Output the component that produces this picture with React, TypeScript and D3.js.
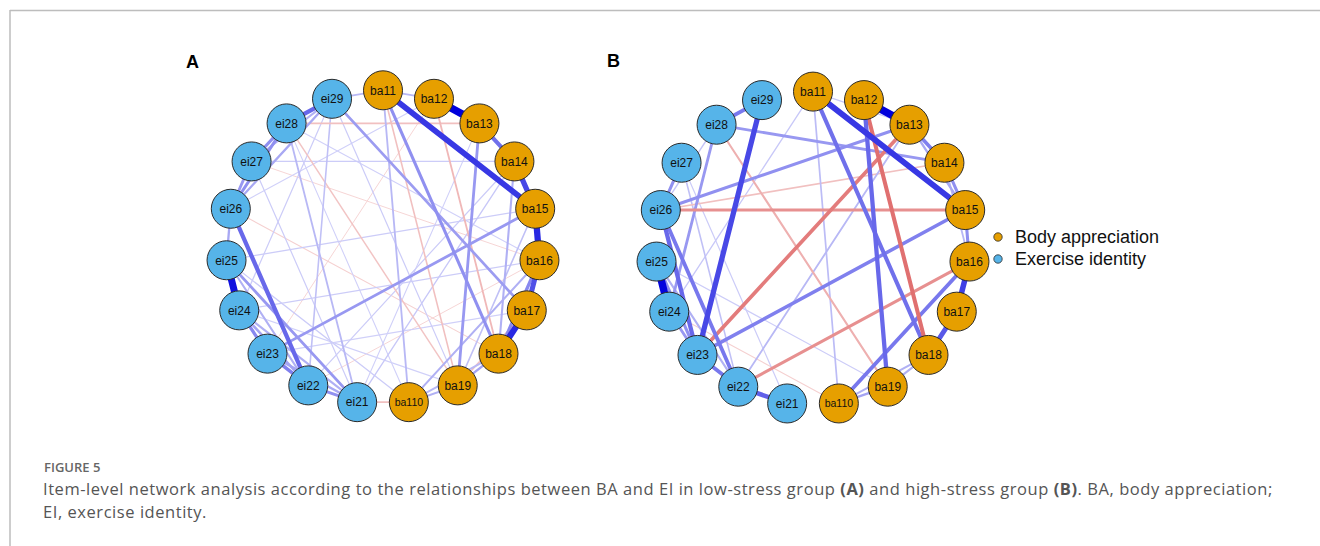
import React from "react";
import * as d3 from "d3";

// node order around the circle (qgraph circle layout, clockwise from top)
const nodes = [
  "ba11", "ba12", "ba13", "ba14", "ba15", "ba16", "ba17", "ba18", "ba19", "ba110",
  "ei21", "ei22", "ei23", "ei24", "ei25", "ei26", "ei27", "ei28", "ei29",
];

const groups = ["Body appreciation", "Exercise identity"];
const groupColors = ["#E69F00", "#56B4E9"];

// partial correlations (sign = colour, size = width)
const edgesLow: [string, string, number][] = [
  ["ba12", "ba13", 0.56],
  ["ba11", "ba15", 0.42],
  ["ba15", "ba16", 0.46],
  ["ba14", "ba15", 0.38],
  ["ba17", "ba18", 0.46],
  ["ba16", "ba17", 0.36],
  ["ba16", "ba18", 0.22],
  ["ba13", "ba14", 0.28],
  ["ei24", "ei25", 0.52],
  ["ei28", "ei29", 0.3],
  ["ei26", "ei22", 0.3],
  ["ei27", "ei28", 0.2],
  ["ei26", "ei28", 0.2],
  ["ei26", "ei27", 0.18],
  ["ei26", "ei29", 0.14],
  ["ei27", "ei29", 0.12],
  ["ei25", "ei26", 0.14],
  ["ei23", "ei24", 0.22],
  ["ei22", "ei23", 0.24],
  ["ei21", "ei22", 0.2],
  ["ei23", "ei21", 0.14],
  ["ei24", "ei22", 0.15],
  ["ei25", "ei21", 0.18],
  ["ei25", "ei22", 0.12],
  ["ei24", "ei21", 0.12],
  ["ei28", "ei21", 0.1],
  ["ei29", "ei22", 0.08],
  ["ba11", "ba18", 0.2],
  ["ba13", "ba19", 0.18],
  ["ba14", "ba18", 0.12],
  ["ba11", "ba12", 0.1],
  ["ba11", "ba110", 0.1],
  ["ba18", "ba19", 0.15],
  ["ba19", "ba110", 0.12],
  ["ba18", "ba110", 0.1],
  ["ba16", "ba110", 0.12],
  ["ba15", "ba19", 0.08],
  ["ba15", "ei23", 0.18],
  ["ei29", "ba17", 0.17],
  ["ei29", "ba11", 0.1],
  ["ba14", "ei21", 0.06],
  ["ba12", "ba18", -0.1],
  ["ba11", "ba19", -0.08],
  ["ei28", "ba13", -0.08],
  ["ei28", "ba19", -0.07],
  ["ba17", "ba19", -0.08],
  ["ba110", "ei21", -0.08],
  ["ei26", "ba18", -0.04],
  ["ei27", "ba16", -0.03],
  ["ei25", "ba15", 0.05],
  ["ei27", "ba14", 0.05],
  ["ei24", "ba16", 0.05],
  ["ei23", "ba17", 0.04],
  ["ei22", "ba14", 0.05],
  ["ei21", "ba13", 0.04],
  ["ei29", "ba19", 0.05],
  ["ei28", "ba110", 0.04],
  ["ei26", "ba12", 0.04],
  ["ei25", "ba110", 0.05],
  ["ei24", "ba19", 0.04],
  ["ei27", "ei21", 0.05],
  ["ei29", "ei24", 0.05],
  ["ei28", "ba16", 0.04],
  ["ei22", "ba16", -0.03],
  ["ei23", "ba12", -0.03],
];

const edgesHigh: [string, string, number][] = [
  ["ba12", "ba13", 0.56],
  ["ba11", "ba15", 0.42],
  ["ba16", "ba17", 0.4],
  ["ba17", "ba18", 0.34],
  ["ba13", "ba14", 0.24],
  ["ba14", "ba15", 0.2],
  ["ba13", "ba15", 0.14],
  ["ba15", "ba16", 0.2],
  ["ba14", "ba16", 0.1],
  ["ba11", "ba18", 0.28],
  ["ba12", "ba19", 0.3],
  ["ba16", "ba110", 0.26],
  ["ba18", "ba19", 0.12],
  ["ba19", "ba110", 0.15],
  ["ba18", "ba110", 0.12],
  ["ba11", "ba110", 0.09],
  ["ba11", "ba13", 0.06],
  ["ei24", "ei25", 0.55],
  ["ei29", "ei23", 0.38],
  ["ei28", "ei29", 0.26],
  ["ei26", "ei23", 0.3],
  ["ei26", "ei22", 0.26],
  ["ei21", "ei22", 0.32],
  ["ei22", "ei23", 0.26],
  ["ei25", "ei23", 0.2],
  ["ei24", "ei23", 0.18],
  ["ei25", "ei22", 0.12],
  ["ei26", "ei27", 0.2],
  ["ei28", "ei24", 0.18],
  ["ei27", "ei22", 0.08],
  ["ei28", "ei26", 0.07],
  ["ei26", "ba13", 0.2],
  ["ei28", "ba14", 0.18],
  ["ei23", "ba15", 0.24],
  ["ei22", "ba13", 0.1],
  ["ba11", "ei24", 0.06],
  ["ei25", "ba19", 0.05],
  ["ei27", "ei21", 0.05],
  ["ba13", "ei23", -0.25],
  ["ba12", "ba18", -0.28],
  ["ei26", "ba15", -0.2],
  ["ba16", "ei22", -0.2],
  ["ei28", "ba19", -0.12],
  ["ei26", "ba14", -0.08],
  ["ei24", "ba110", -0.04],
];

const W = 1320;
const H = 546;
const R = 157;
const nodeR = 19.5;
const maxW = 0.56;

const angle = d3.scaleLinear().domain([0, nodes.length]).range([0, 2 * Math.PI]);
const widthScale = d3.scaleLinear().domain([0, maxW]).range([0.6, 7.5]);
const strength = d3.scaleLinear().domain([0, maxW]).range([0.12, 1]).clamp(true);
const posCol = d3.interpolateRgb("#ffffff", "#0000dc");
const negCol = d3.interpolateRgb("#ffffff", "#c80000");

function Network({ cx, cy, edges }: { cx: number; cy: number; edges: [string, string, number][] }) {
  const pos = (name: string) => {
    const a = angle(nodes.indexOf(name));
    return [cx + R * Math.sin(a), cy - R * Math.cos(a)];
  };
  const sorted = [...edges].sort((a, b) => Math.abs(a[2]) - Math.abs(b[2]));
  return (
    <g>
      {sorted.map(([s, t, w], i) => {
        const [x1, y1] = pos(s);
        const [x2, y2] = pos(t);
        const c = w > 0 ? posCol(strength(w)) : negCol(strength(-w));
        return (
          <line key={i} x1={x1} y1={y1} x2={x2} y2={y2} stroke={c}
            strokeWidth={widthScale(Math.abs(w))} strokeLinecap="round" />
        );
      })}
      {nodes.map((n) => {
        const [x, y] = pos(n);
        const g = n.startsWith("ba") ? 0 : 1;
        return (
          <g key={n} transform={`translate(${x},${y})`}>
            <circle r={nodeR} fill={groupColors[g]} stroke="#2b2b2b" strokeWidth={1} />
            <text textAnchor="middle" dy="0.36em" fontFamily="Liberation Sans, Arial, sans-serif"
              fontSize={n.length > 4 ? 10.5 : 12} fill="#111">{n}</text>
          </g>
        );
      })}
    </g>
  );
}

export default function App() {
  return (
    <svg width={W} height={H} style={{ position: "absolute", left: 0, top: 0, background: "#fff" }}>
      <line x1={10} y1={10.5} x2={W} y2={10.5} stroke="#bdbdbd" strokeWidth={1.5} />
      <line x1={10} y1={10} x2={10} y2={H} stroke="#bdbdbd" strokeWidth={1.5} />

      <text x={186} y={68} fontFamily="Liberation Sans, Arial, sans-serif" fontWeight="bold" fontSize={18}>A</text>
      <text x={607} y={67} fontFamily="Liberation Sans, Arial, sans-serif" fontWeight="bold" fontSize={18}>B</text>

      <Network cx={383} cy={247.3} edges={edgesLow} />
      <Network cx={813} cy={248.6} edges={edgesHigh} />

      {groups.map((g, i) => (
        <g key={g} transform={`translate(998,${237 + i * 22})`}>
          <circle r={4.2} fill={groupColors[i]} stroke="#2b2b2b" strokeWidth={0.8} />
          <text x={17} dy="0.36em" fontFamily="Liberation Sans, Arial, sans-serif" fontSize={18} fill="#111">{g}</text>
        </g>
      ))}

      <g fontFamily="Open Sans, Noto Sans, sans-serif" fill="#555">
        <text x={44} y={472} fontSize={13} fontWeight={600} fill="#666">FIGURE 5</text>
        <text x={43} y={495} fontSize={16.5} letterSpacing={0.55}>
          Item-level network analysis according to the relationships between BA and EI in low-stress group{" "}
          <tspan fontWeight="bold">(A)</tspan> and high-stress group <tspan fontWeight="bold">(B)</tspan>. BA, body appreciation;
        </text>
        <text x={43} y={518} fontSize={16.5} letterSpacing={0.55}>EI, exercise identity.</text>
      </g>
    </svg>
  );
}
